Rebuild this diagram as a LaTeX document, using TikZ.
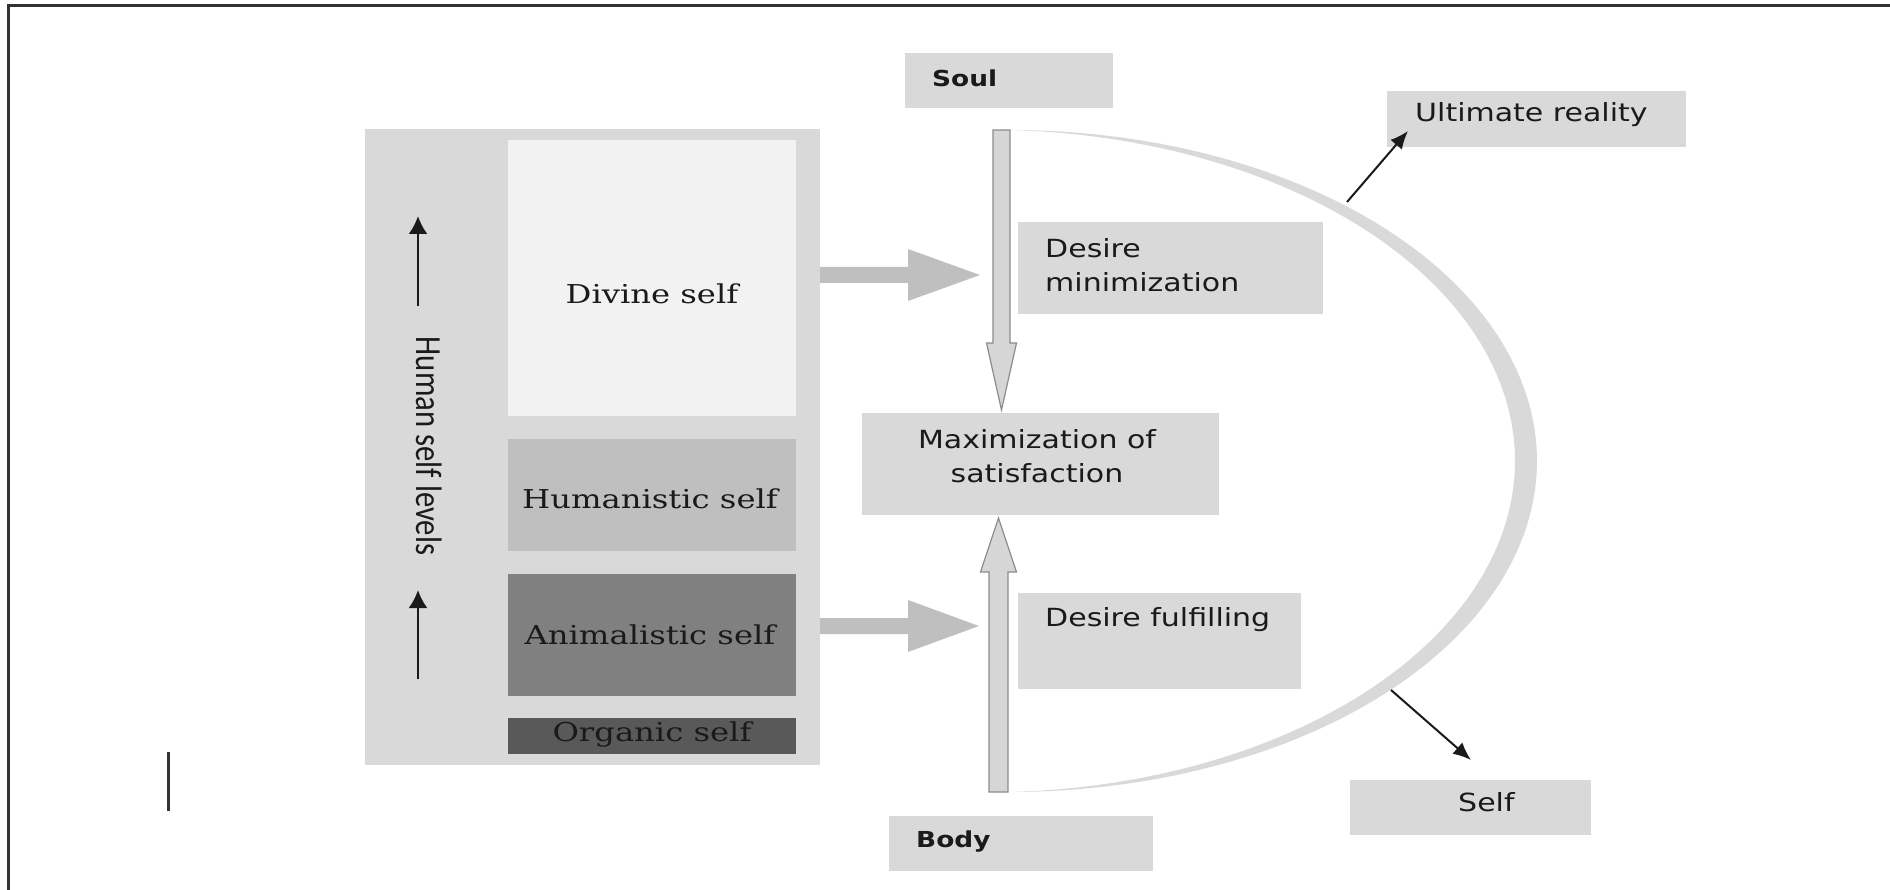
\documentclass[tikz,border=0pt]{standalone}
\usepackage{fontspec}
\newfontfamily\sansf[FakeStretch=1.2]{DejaVu Sans}
\newfontfamily\seriff[FakeStretch=1.24]{DejaVu Serif}
\newfontfamily\calf{Carlito}
\usetikzlibrary{arrows.meta,calc}
\definecolor{boxg}{HTML}{D9D9D9}
\definecolor{divc}{HTML}{F2F2F2}
\definecolor{humc}{HTML}{BFBFBF}
\definecolor{anic}{HTML}{808080}
\definecolor{orgc}{HTML}{595959}
\definecolor{bigc}{HTML}{BFBFBF}
\definecolor{holc}{HTML}{D6D6D6}
\definecolor{holl}{HTML}{8C8C8C}
\definecolor{framec}{HTML}{333333}
\definecolor{txt}{HTML}{1A1A1A}
\begin{document}
\begin{tikzpicture}[x=1pt,y=-1pt,
  box/.style={rectangle, draw=none, inner sep=0pt, outer sep=0pt, fill=#1},
  box/.default=boxg,
  sz/.style 2 args={minimum width=#1, minimum height=#2},
  sanst/.style={inner sep=0pt, font=\sansf\fontsize{25}{34}\selectfont, text=txt},
  boldt/.style={inner sep=0pt, font=\sansf\bfseries\fontsize{22}{26}\selectfont, text=txt},
  seriftxt/.style={inner sep=0pt, font=\seriff\fontsize{26}{30}\selectfont, text=txt},
  ptr/.style={-{Latex[length=18pt,width=15pt]}, line width=2pt, draw=txt},
  lvl/.style={-{Latex[length=18pt,width=19pt]}, line width=2.5pt, draw=txt},
  hollow/.style={fill=holc, draw=holl, line width=1.2pt, line join=miter},
  fat/.style={fill=bigc, draw=none},
  framel/.style={draw=framec, line width=3.5pt},
]
\useasboundingbox (0,0) rectangle (1890,890);

% frame
\draw[framel] (8.5,890) -- (8.5,5.5) -- (1890,5.5);
\draw[draw=framec, line width=3pt] (168.5,752) -- (168.5,811);

% left panel
\node[box, sz={455pt}{636pt}] (panel) at (592.5,447) {};
\node[box=divc, sz={288pt}{276pt}] (divine) at (652,278) {};
\node[box=humc, sz={288pt}{112pt}] (human) at (652,495) {};
\node[box=anic, sz={288pt}{122pt}] (animal) at (652,635) {};
\node[box=orgc, sz={288pt}{36pt}] (organic) at (652,736) {};

\node[seriftxt, anchor=base] at (652,304) {Divine self};
\node[seriftxt, anchor=base] at (650,508) {Humanistic self};
\node[seriftxt, anchor=base] at (650,644) {Animalistic self};
\node[seriftxt, anchor=base] at (652,741) {Organic self};

\node[rotate=-90, inner sep=0pt, text=txt, font=\calf\fontsize{30.7}{34}\selectfont] (hsl) at (429,446) {\scalebox{1}[1.2]{Human self levels}};

\coordinate (lv1s) at (418,306);
\coordinate (lv1e) at (418,216);
\coordinate (lv2s) at (418,679);
\coordinate (lv2e) at (418,590);
\draw[lvl] (lv1s) -- (lv1e);
\draw[lvl] (lv2s) -- (lv2e);

% right boxes
\node[box, sz={208pt}{55pt}] (soul) at (1009,80.5) {};
\node[box, sz={305pt}{92pt}] (desmin) at (1170.5,268) {};
\node[box, sz={357pt}{102pt}] (maxim) at (1040.5,464) {};
\node[box, sz={283pt}{96pt}] (desful) at (1159.5,641) {};
\node[box, sz={264pt}{55pt}] (body) at (1021,843.5) {};
\node[box, sz={241pt}{55pt}] (self) at (1470.5,807.5) {};
\node[box, sz={299pt}{56pt}] (ultimate) at (1536.5,119) {};

\node[boldt, anchor=base west] at (932,87) {Soul};
\node[boldt, anchor=base west] at (916,847) {Body};
\node[sanst, anchor=base west, align=left] at (1045,292) {Desire\\minimization};
\node[sanst, anchor=base, align=center] at (1037,482) {Maximization of\\satisfaction};
\node[sanst, anchor=base west] at (1045,626) {Desire fulfilling};
\node[sanst, anchor=base west] at (1415,122) {Ultimate reality};
\node[sanst, anchor=base west] at (1458,811) {Self};

% crescent
\fill[boxg] plot[domain=-90:90, samples=120] ({1010+527*cos(\x)},{461+331*sin(\x)})
  -- plot[domain=90:-90, samples=120] ({1010+(527-22*cos(\x))*cos(\x)},{461+(331-14*cos(\x))*sin(\x)}) -- cycle;

% big grey arrows
\coordinate (ba0) at (panel.east |- 0,275);
\coordinate (ba1) at (980,275);
\fill[fat] ($(ba0)+(0,-8)$) -- ($(ba1)+(-72,-8)$) -- ($(ba1)+(-72,-26)$) -- (ba1)
  -- ($(ba1)+(-72,26)$) -- ($(ba1)+(-72,8)$) -- ($(ba0)+(0,8)$) -- cycle;
\coordinate (bb0) at (panel.east |- 0,626);
\coordinate (bb1) at (979,626);
\fill[fat] ($(bb0)+(0,-8)$) -- ($(bb1)+(-71,-8)$) -- ($(bb1)+(-71,-26)$) -- (bb1)
  -- ($(bb1)+(-71,26)$) -- ($(bb1)+(-71,8)$) -- ($(bb0)+(0,8)$) -- cycle;

% hollow vertical arrows
\coordinate (dn0) at (1001.5,130);
\coordinate (dn1) at ($(maxim.north -| dn0)+(0,-3)$);
\filldraw[hollow] ($(dn0)+(-8.5,0)$) -- ($(dn0)+(8.5,0)$) -- ($(dn1)+(8.5,-67)$) -- ($(dn1)+(15,-67)$)
  -- (dn1) -- ($(dn1)+(-15,-67)$) -- ($(dn1)+(-8.5,-67)$) -- cycle;
\coordinate (up0) at (998.5,792);
\coordinate (up1) at ($(maxim.south -| up0)+(0,3)$);
\filldraw[hollow] ($(up0)+(-9.5,0)$) -- ($(up0)+(9.5,0)$) -- ($(up1)+(9.5,54)$) -- ($(up1)+(18,54)$)
  -- (up1) -- ($(up1)+(-18,54)$) -- ($(up1)+(-9.5,54)$) -- cycle;

% pointers
\coordinate (u0) at (1347,202);
\coordinate (u1) at ($(ultimate.south west)+(21,-16)$);
\draw[ptr] (u0) -- (u1);
\coordinate (s0) at (1391,690);
\coordinate (s1) at ($(self.north west)+(121,-20)$);
\draw[ptr] (s0) -- (s1);
\end{tikzpicture}
\end{document}
